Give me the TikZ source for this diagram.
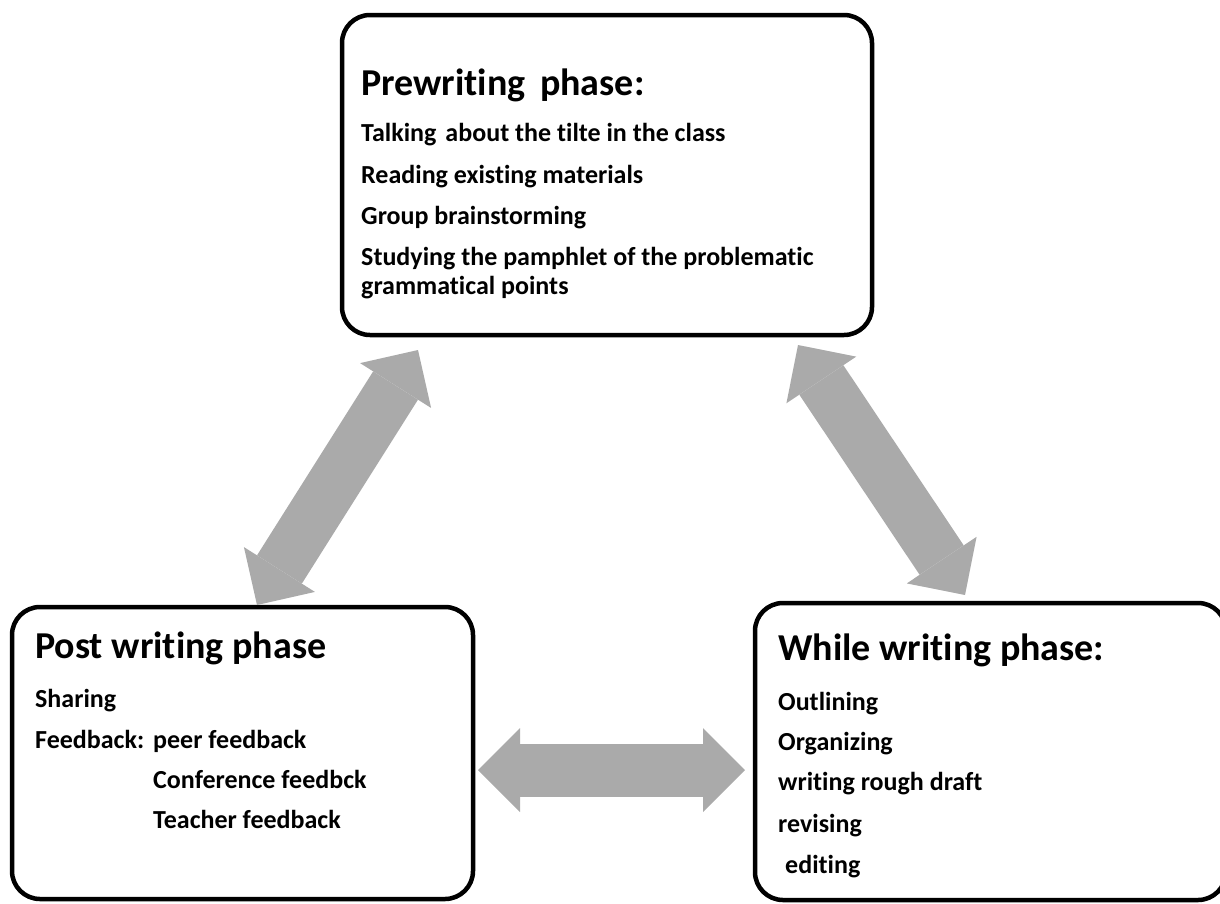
\documentclass[tikz,border=0pt]{standalone}
\usepackage{fontspec}
\setmainfont{Carlito}[Ligatures=NoCommon]
\usetikzlibrary{arrows.meta}
\definecolor{arrowgray}{RGB}{170,170,170}
\tikzset{
  phasebox/.style={draw=black, line width=4.5pt, rounded corners=28pt, rectangle, inner sep=0pt, fill=none},
  phasetitle/.style={font=\fontsize{38}{44}\selectfont\bfseries, anchor=base west, inner sep=0pt},
  phaseitem/.style={font=\fontsize{26}{30}\selectfont\bfseries, anchor=base west, inner sep=0pt},
  bigarrow/.style={draw=arrowgray, line width=53pt,
    {Triangle[length=42pt,width=84pt,line width=0pt,fill=arrowgray]}-{Triangle[length=42pt,width=84pt,line width=0pt,fill=arrowgray]}}
}
\begin{document}
\begin{tikzpicture}[x=1pt,y=-1pt]
\useasboundingbox (0,0) rectangle (1220,903);
\clip (0,0) rectangle (1220,903);
% boxes
\node[phasebox, minimum width=530pt, minimum height=320pt] (pre) at (607,175) {};
\node[phasebox, minimum width=461pt, minimum height=292pt] (post) at (242.5,753) {};
\node[phasebox, minimum width=471pt, minimum height=297pt] (while) at (990.5,751.5) {};
% prewriting texts
\node[phasetitle] (preT) at (361,95) {Prewriting\hspace{0.16em} phase:};
\node[phaseitem] (pre1) at (361,141) {Talking\hspace{0.12em} about the tilte in the class};
\node[phaseitem] (pre2) at (361,183) {Reading existing materials};
\node[phaseitem] (pre3) at (361,224) {Group brainstorming};
\node[phaseitem] (pre4) at (361,265) {Studying the pamphlet of the problematic};
\node[phaseitem] (pre5) at (361,294) {grammatical points};
% post writing texts
\node[phasetitle] (postT) at (35,658) {Post writing phase};
\node[phaseitem] (post1) at (35,707) {Sharing};
\node[phaseitem] (post2) at (35,748) {\makebox[118pt][l]{Feedback:}peer feedback};
\node[phaseitem] (post3) at (153,788) {Conference feedbck};
\node[phaseitem] (post4) at (153,828) {Teacher feedback};
% while writing texts
\node[phasetitle] (whileT) at (778,660) {While writing phase:};
\node[phaseitem] (while1) at (778,710) {Outlining};
\node[phaseitem] (while2) at (778,750) {Organizing};
\node[phaseitem] (while3) at (778,790) {writing rough draft};
\node[phaseitem] (while4) at (778,832) {revising};
\node[phaseitem] (while5) at (785,873) {editing};
% arrow end points
\coordinate (preL) at (418,350);
\coordinate (postT1) at (257,605);
\coordinate (preR) at (798,345);
\coordinate (whileT1) at (965,595);
\coordinate (postR) at (478,770);
\coordinate (whileL) at (745,770);
\draw[bigarrow] (postT1) -- (preL);
\draw[bigarrow] (preR) -- (whileT1);
\draw[bigarrow] (postR) -- (whileL);
\end{tikzpicture}
\end{document}
